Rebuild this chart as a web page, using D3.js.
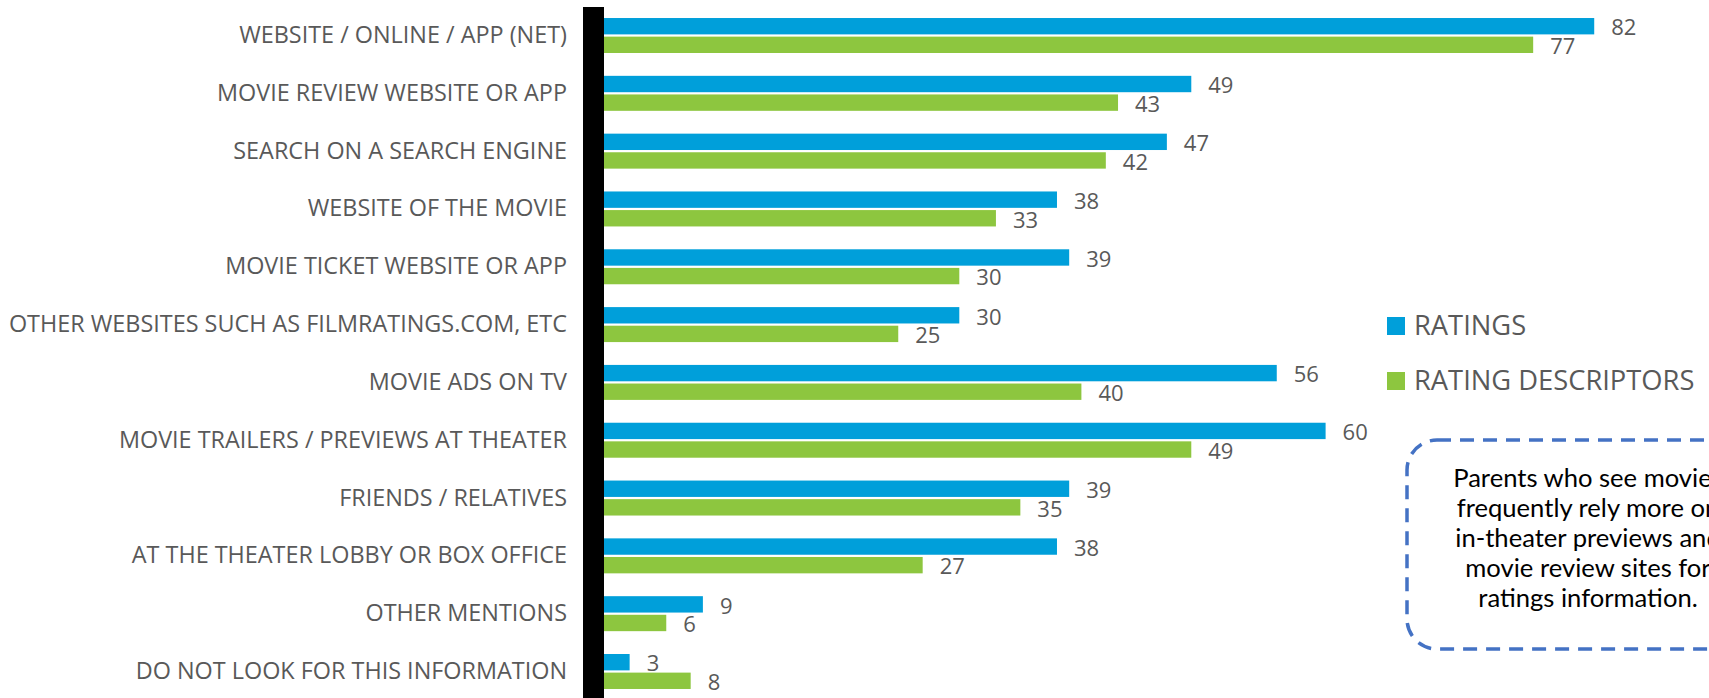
<!DOCTYPE html>
<html>
<head>
<meta charset="utf-8">
<script src="https://cdn.jsdelivr.net/npm/d3@7"></script>
<style>
  html, body { margin: 0; padding: 0; background: #fff; overflow: hidden; }
</style>
</head>
<body>
<div id="chart"></div>
<script>
// data
const categories = [
  "WEBSITE / ONLINE / APP (NET)",
  "MOVIE REVIEW WEBSITE OR APP",
  "SEARCH ON A SEARCH ENGINE",
  "WEBSITE OF THE MOVIE",
  "MOVIE TICKET WEBSITE OR APP",
  "OTHER WEBSITES SUCH AS FILMRATINGS.COM, ETC",
  "MOVIE ADS ON TV",
  "MOVIE TRAILERS / PREVIEWS AT THEATER",
  "FRIENDS / RELATIVES",
  "AT THE THEATER LOBBY OR BOX OFFICE",
  "OTHER MENTIONS",
  "DO NOT LOOK FOR THIS INFORMATION"
];
const series = ["RATINGS", "RATING DESCRIPTORS"];
const ratings = [82, 49, 47, 38, 39, 30, 56, 60, 39, 38, 9, 3];
const descriptors = [77, 43, 42, 33, 30, 25, 40, 49, 35, 27, 6, 8];
const noteLines = [
  "Parents who see movies",
  "frequently rely more on",
  "in-theater previews and",
  "movie review sites for",
  "ratings information."
];

const width = 1709, height = 698;
const colors = {"RATINGS": "#009fda", "RATING DESCRIPTORS": "#8dc63f"};
const grey = "#595959";

const svg = d3.select("#chart")
    .append("svg")
    .attr("width", width)
    .attr("height", height)
    .style("font-family", "'Open Sans', sans-serif");

// scales
const x = d3.scaleLinear()
    .domain([0, 100])
    .range([593, 593 + 1221]);

const y = d3.scaleBand()
    .domain(categories)
    .range([6.6, 700.4])
    .paddingInner(0.395)
    .paddingOuter(0.1975);

const ySub = d3.scaleBand()
    .domain(series)
    .range([0, y.bandwidth()])
    .paddingInner(0.12);

const rows = categories.map((c, i) => ({
  category: c,
  values: [
    {key: "RATINGS", value: ratings[i]},
    {key: "RATING DESCRIPTORS", value: descriptors[i]}
  ]
}));

// bars
const groups = svg.append("g")
  .selectAll("g")
  .data(rows)
  .join("g")
    .attr("transform", d => `translate(0,${y(d.category)})`);

groups.selectAll("rect")
  .data(d => d.values)
  .join("rect")
    .attr("x", x(0))
    .attr("y", d => ySub(d.key))
    .attr("width", d => x(d.value) - x(0))
    .attr("height", ySub.bandwidth())
    .attr("fill", d => colors[d.key]);

groups.selectAll("text")
  .data(d => d.values)
  .join("text")
    .attr("x", d => x(d.value) + 17)
    .attr("y", d => ySub(d.key) + ySub.bandwidth() / 2)
    .attr("dy", "0.42em")
    .attr("fill", grey)
    .style("font-size", "22px")
    .text(d => d.value);

// y axis: thick black line plus category labels
const yAxis = svg.append("g")
    .attr("transform", `translate(${x(0)},0)`)
    .call(d3.axisLeft(y).tickSize(0).tickSizeOuter(0).tickPadding(26));

yAxis.select(".domain")
    .attr("stroke", "#000")
    .attr("stroke-width", 21);

yAxis.selectAll(".tick text")
    .attr("fill", grey)
    .style("font-size", "23.4px")
    .style("font-family", "'Open Sans', sans-serif");

// legend
const legend = svg.append("g")
  .selectAll("g")
  .data(series)
  .join("g")
    .attr("transform", (d, i) => `translate(1387,${317 + i * 55})`);

legend.append("rect")
    .attr("width", 18)
    .attr("height", 18)
    .attr("fill", d => colors[d]);

legend.append("text")
    .attr("x", 27)
    .attr("y", 18)
    .attr("fill", grey)
    .style("font-size", "27.3px")
    .text(d => d);

// dashed note box (runs past the right edge, as in the original)
const note = svg.append("g");
note.append("rect")
    .attr("x", 1407)
    .attr("y", 440)
    .attr("width", 361)
    .attr("height", 209)
    .attr("rx", 30)
    .attr("fill", "none")
    .attr("stroke", "#4472c4")
    .attr("stroke-width", 3.5)
    .attr("stroke-dasharray", "14 9");

note.selectAll("text")
  .data(noteLines)
  .join("text")
    .attr("x", 1588)
    .attr("y", (d, i) => 487 + i * 30)
    .attr("text-anchor", "middle")
    .attr("fill", "#000")
    .style("font-family", "Lato, sans-serif")
    .style("font-size", "25.6px")
    .text(d => d);
</script>
</body>
</html>
